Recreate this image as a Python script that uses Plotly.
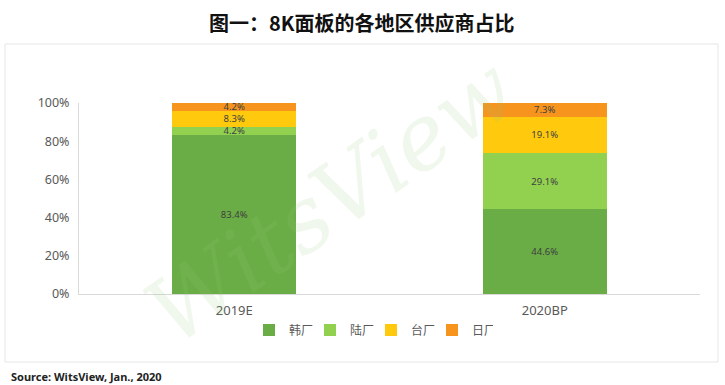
import plotly.graph_objects as go

categories = ["2019E", "2020BP"]
series_names = ["韩厂", "陆厂", "台厂", "日厂"]
korea = [83.4, 44.6]
china = [4.2, 29.1]
taiwan = [8.3, 19.1]
japan = [4.2, 7.3]
y_ticks = [0, 20, 40, 60, 80, 100]
y_tick_labels = ["0%", "20%", "40%", "60%", "80%", "100%"]

colors = ["#6aad46", "#92d050", "#ffc90e", "#f7941d"]
values = [korea, china, taiwan, japan]

W, H = 725, 385
L, R, T, B = 79, 25, 103, 91
pw, ph = W - L - R, H - T - B

def px(x):
    return (x - L) / pw

def py(y):
    return (H - B - y) / ph

fig = go.Figure()
for name, vals, c in zip(series_names, values, colors):
    fig.add_trace(go.Bar(
        x=categories, y=[v / 100 for v in vals], name=name,
        marker=dict(color=c, line=dict(width=0)),
        text=[f"{v:.1f}%" for v in vals], textposition="inside",
        insidetextanchor="middle",
        textfont=dict(size=9.5, color="#404040", family="Noto Sans"),
        hoverinfo="skip",
    ))

fig.update_layout(
    width=W, height=H,
    margin=dict(l=L, r=R, t=T, b=B, pad=0),
    barmode="stack", bargap=0.6,
    paper_bgcolor="white", plot_bgcolor="white",
    font=dict(family="Noto Sans, Noto Sans CJK SC", color="#595959"),
    uniformtext=dict(minsize=9, mode="show"),
    xaxis=dict(showgrid=False, showline=True, linecolor="#d9d9d9", automargin=False,
               tickfont=dict(size=13, color="#595959"), ticks="", ticklabelstandoff=4),
    yaxis=dict(range=[0, 1], tickvals=[t / 100 for t in y_ticks], ticktext=y_tick_labels,
               showgrid=False, showline=True, linecolor="#d9d9d9", automargin=False,
               tickfont=dict(size=12.5, color="#595959"), ticks="", ticklen=0,
               ticklabelstandoff=6),
    legend=dict(orientation="h", xref="container", yref="container",
                x=249 / W, xanchor="left", y=1 - 330 / H, yanchor="middle",
                font=dict(size=12, color="#595959"), traceorder="normal",
                itemwidth=30, entrywidth=16, entrywidthmode="pixels",
                bgcolor="rgba(0,0,0,0)"),
    showlegend=True,
)

fig.add_annotation(text="<b>图一：8K面板的各地区供应商占比</b>", xref="paper", yref="paper",
                   x=px(362), y=py(22), xanchor="center", yanchor="middle", showarrow=False,
                   font=dict(size=20, color="#111111", family="Noto Sans CJK SC"))
fig.add_annotation(text="<b>Source: WitsView, Jan., 2020</b>", xref="paper", yref="paper",
                   x=px(9), y=py(376), xanchor="left", yanchor="middle", showarrow=False,
                   font=dict(size=11, color="#222222", family="Noto Sans"))
fig.add_annotation(text="<i>WitsView</i>", xref="paper", yref="paper",
                   x=px(330), y=py(200), xanchor="center", yanchor="middle", showarrow=False,
                   textangle=-35,
                   font=dict(size=90, color="rgba(146,200,120,0.14)", family="DejaVu Serif"))

fig.add_shape(type="rect", xref="paper", yref="paper",
              x0=px(5), x1=px(718), y0=py(362), y1=py(44),
              line=dict(color="#e6e6e6", width=1), layer="below")

fig.write_html("out.html", post_script="document.body.style.margin='0';",
               config={"displayModeBar": False})
